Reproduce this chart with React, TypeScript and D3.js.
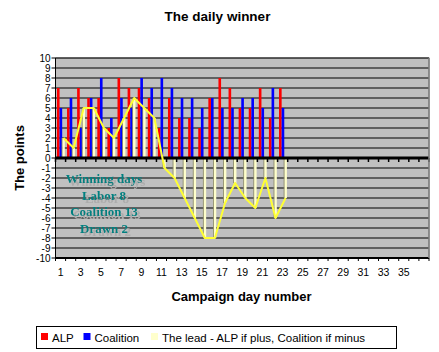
import * as d3 from "d3";

// category labels for the x axis (campaign days)
const days = [
  "1", "2", "3", "4", "5", "6", "7", "8", "9", "10", "11", "12", "13", "14", "15", "16", "17", "18", "19",
  "20", "21", "22", "23", "24", "25", "26", "27", "28", "29", "30", "31", "32", "33", "34", "35", "36", "37",
];

// daily points, days 1-23
const alp = [7, 5, 7, 6, 6, 3, 8, 7, 7, 6, 3, 6, 4, 4, 3, 6, 8, 7, 5, 5, 7, 4, 7];
const coalition = [5, 6, 3, 6, 8, 4, 6, 5, 8, 7, 8, 7, 6, 6, 5, 6, 5, 5, 6, 6, 5, 7, 5];
const lead = [2, 1, 5, 5, 3, 2, 4, 6, 5, 4, -1, -2, -4, -6, -8, -8, -4.5, -2.5, -4, -5, -2, -6, -4];

const yTicks = [10, 9, 8, 7, 6, 5, 4, 3, 2, 1, 0, -1, -2, -3, -4, -5, -6, -7, -8, -9, -10];
const xLabels = ["1", "3", "5", "7", "9", "11", "13", "15", "17", "19", "21", "23", "25", "27", "29", "31", "33", "35"];
const noteLines = ["Winning days", "Labor 8", "Coalition 13", "Drawn 2"];

const legendItems = [
  { label: "ALP", color: "#ff0000" },
  { label: "Coalition", color: "#0000ff" },
  { label: "The lead - ALP if plus, Coalition if minus", color: "#ffffcc" },
];

export default function App() {
  const width = 439;
  const height = 352;
  const left = 55.5;
  const right = 429;
  const top = 58;
  const bottom = 258;

  const x = d3.scaleBand().domain(days).range([left, right]).padding(0);
  const inner = d3
    .scaleBand()
    .domain(["alp", "coalition", "lead"])
    .range([0, x.bandwidth()])
    .paddingInner(0)
    .paddingOuter(0.42)
    .align(0.65);
  const y = d3.scaleLinear().domain([-10, 10]).range([bottom, top]);
  const y0 = y(0);

  const font = "Arial, 'Liberation Sans', sans-serif";
  const serif = "'Times New Roman', 'Liberation Serif', serif";

  const leadX = (i: number) => (x(days[i]) as number) + (inner("lead") as number) + inner.bandwidth() / 2;
  const leadLine = d3
    .line<number>()
    .x((_, i) => leadX(i))
    .y((d) => y(d));

  // boundaries between categories for tick marks
  const bounds = days.map((d) => x(d) as number).concat([right]);

  // legend layout
  const legendX = [41, 83.5, 151];

  return (
    <div style={{ position: "absolute", left: 0, top: 0 }}>
      <svg width={width} height={height} style={{ display: "block", background: "#fff" }}>
        <defs>
          <filter id="noteShadow" x="-10%" y="-30%" width="130%" height="180%">
            <feOffset in="SourceAlpha" dx={3} dy={3} result="off" />
            <feFlood floodColor="#acacac" result="col" />
            <feComposite in="col" in2="off" operator="in" result="shadow" />
            <feMerge>
              <feMergeNode in="shadow" />
              <feMergeNode in="SourceGraphic" />
            </feMerge>
          </filter>
        </defs>

        <text x={217.5} y={21} textAnchor="middle" fontFamily={font} fontWeight="bold" fontSize={13.5}>
          The daily winner
        </text>

        {/* plot area */}
        <rect x={left} y={top} width={right - left} height={bottom - top} fill="#c0c0c0" stroke="#808080" />

        {yTicks.map((t) => (
          <line key={"g" + t} x1={left} x2={right} y1={y(t)} y2={y(t)} stroke="#000" strokeWidth={1} />
        ))}

        {/* bars */}
        {alp.map((v, i) => (
          <rect
            key={"a" + i}
            x={(x(days[i]) as number) + (inner("alp") as number)}
            y={y(v)}
            width={inner.bandwidth()}
            height={y0 - y(v)}
            fill="#ff0000"
          />
        ))}
        {coalition.map((v, i) => (
          <rect
            key={"c" + i}
            x={(x(days[i]) as number) + (inner("coalition") as number)}
            y={y(v)}
            width={inner.bandwidth()}
            height={y0 - y(v)}
            fill="#0000ff"
          />
        ))}
        {lead.map((v, i) => {
          const bx = (x(days[i]) as number) + (inner("lead") as number);
          const y1 = Math.min(y(v), y0);
          const h = Math.abs(y0 - y(v));
          return (
            <g key={"l" + i}>
              <rect x={bx} y={y1} width={inner.bandwidth()} height={h} fill="#ffffcc" />
              <rect x={bx - 0.6} y={y1} width={0.8} height={h} fill="#8c8c66" />
            </g>
          );
        })}

        {/* zero axis with ticks */}
        <line x1={left} x2={right} y1={y0} y2={y0} stroke="#000" strokeWidth={3} />
        {bounds.map((b, i) => (
          <line key={"zt" + i} x1={b} x2={b} y1={y0} y2={y0 + 4} stroke="#000" strokeWidth={1.5} />
        ))}

        {/* lead line */}
        <path d={leadLine(lead) || ""} fill="none" stroke="#ffff33" strokeWidth={2} strokeLinejoin="round" />

        {/* bottom border and ticks */}
        <line x1={left} x2={right} y1={bottom} y2={bottom} stroke="#000" strokeWidth={2} />
        {bounds.map((b, i) => (
          <line key={"bt" + i} x1={b} x2={b} y1={bottom} y2={bottom + 3} stroke="#000" strokeWidth={1} />
        ))}
        <line x1={right} x2={right} y1={top} y2={bottom} stroke="#808080" strokeWidth={1.5} />

        {/* y axis */}
        <line x1={left} x2={left} y1={top} y2={bottom} stroke="#000" strokeWidth={1} />
        {yTicks.map((t) => (
          <g key={"yt" + t}>
            <line x1={left - 4} x2={left} y1={y(t)} y2={y(t)} stroke="#000" />
            <text x={left - 5} y={y(t) + 3.5} textAnchor="end" fontFamily={font} fontSize={10}>
              {t}
            </text>
          </g>
        ))}

        {/* x labels */}
        {xLabels.map((l) => (
          <text
            key={"xl" + l}
            x={(x(l) as number) + x.bandwidth() / 2}
            y={276}
            textAnchor="middle"
            fontFamily={font}
            fontSize={10.5}
          >
            {l}
          </text>
        ))}

        <text x={241.5} y={301} textAnchor="middle" fontFamily={font} fontWeight="bold" fontSize={13}>
          Campaign day number
        </text>
        <text
          transform="translate(24,158) rotate(-90)"
          textAnchor="middle"
          fontFamily={font}
          fontWeight="bold"
          fontSize={13}
        >
          The points
        </text>

        {/* note, drop shadow via filter */}
        <g filter="url(#noteShadow)">
          {noteLines.map((t, i) => (
            <text
              key={"n" + i}
              x={104}
              y={183 + i * 16.5}
              textAnchor="middle"
              fontFamily={serif}
              fontWeight="bold"
              fontSize={13}
              fill="#008080"
            >
              {t}
            </text>
          ))}
        </g>

        {/* legend */}
        <rect x={36.5} y={326.5} width={360} height={22} fill="#fff" stroke="#000" />
        {legendItems.map((it, i) => (
          <g key={"lg" + i}>
            <rect x={legendX[i]} y={333} width={7} height={7} fill={it.color} />
            <text x={legendX[i] + 11} y={341.5} fontFamily={font} fontSize={11.5}>
              {it.label}
            </text>
          </g>
        ))}
      </svg>
    </div>
  );
}
